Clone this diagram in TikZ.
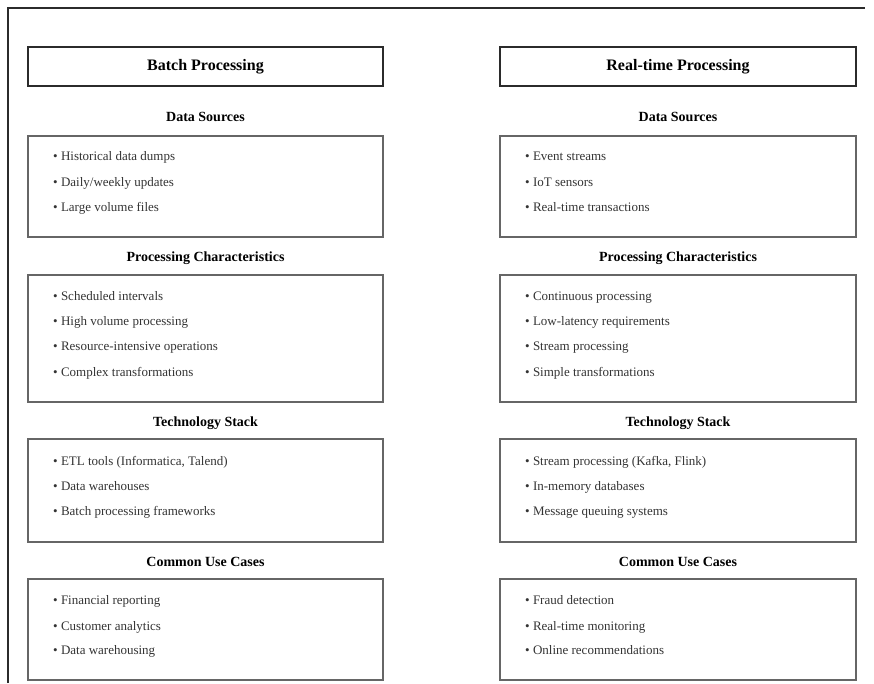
\documentclass[tikz,border=0pt]{standalone}
\usepackage{fontspec}
\setmainfont{Liberation Serif}
\definecolor{inkdark}{HTML}{2B2B2B}
\definecolor{boxgray}{HTML}{666666}
\definecolor{textgray}{HTML}{333333}
\begin{document}
\begin{tikzpicture}[x=1pt,y=-1pt,
  frameline/.style={draw=inkdark,line width=1.4pt},
  headbox/.style={draw=inkdark,line width=2.2pt,inner sep=0pt,minimum height=39pt,
    font=\fontsize{16}{19}\selectfont\bfseries,text=black},
  sectitle/.style={font=\fontsize{14}{17}\selectfont\bfseries,text=black,inner sep=0pt,
    text height=9.5pt,text depth=3.5pt},
  listbox/.style={draw=boxgray,line width=1.6pt,inner sep=0pt},
  item/.style={anchor=west,inner sep=0pt,font=\fontsize{13}{16}\selectfont,text=textgray,
    text height=9pt,text depth=3pt}
]
\useasboundingbox (0,0) rectangle (874,683);
% outer frame (left and top edges)
\draw[frameline] (8,683) -- (8,8) -- (865,8);

% ---------- Batch column ----------
\node[headbox,minimum width=355pt] (bhead) at (205.5,66.5) {Batch Processing};

\node[sectitle] (bds) at (205.5,118) {Data Sources};
\node[listbox,minimum width=355pt,minimum height=101pt] (bdsbox) at (205.5,186.5) {};
\node[item] (bds1) at (53,157) {• Historical data dumps};
\node[item] (bds2) at (53,183) {• Daily/weekly updates};
\node[item] (bds3) at (53,208) {• Large volume files};

\node[sectitle] (bpc) at (205.5,258) {Processing Characteristics};
\node[listbox,minimum width=355pt,minimum height=127pt] (bpcbox) at (205.5,338.5) {};
\node[item] (bpc1) at (53,297) {• Scheduled intervals};
\node[item] (bpc2) at (53,322) {• High volume processing};
\node[item] (bpc3) at (53,347) {• Resource-intensive operations};
\node[item] (bpc4) at (53,373) {• Complex transformations};

\node[sectitle] (bts) at (205.5,423) {Technology Stack};
\node[listbox,minimum width=355pt,minimum height=103pt] (btsbox) at (205.5,490.5) {};
\node[item] (bts1) at (53,462) {• ETL tools (Informatica, Talend)};
\node[item] (bts2) at (53,487) {• Data warehouses};
\node[item] (bts3) at (53,512) {• Batch processing frameworks};

\node[sectitle] (buc) at (205.5,563) {Common Use Cases};
\node[listbox,minimum width=355pt,minimum height=101pt] (bucbox) at (205.5,629.5) {};
\node[item] (buc1) at (53,601) {• Financial reporting};
\node[item] (buc2) at (53,627) {• Customer analytics};
\node[item] (buc3) at (53,651) {• Data warehousing};

% ---------- Real-time column ----------
\node[headbox,minimum width=356pt] (rhead) at (678,66.5) {Real-time Processing};

\node[sectitle] (rds) at (678,118) {Data Sources};
\node[listbox,minimum width=356pt,minimum height=101pt] (rdsbox) at (678,186.5) {};
\node[item] (rds1) at (525,157) {• Event streams};
\node[item] (rds2) at (525,183) {• IoT sensors};
\node[item] (rds3) at (525,208) {• Real-time transactions};

\node[sectitle] (rpc) at (678,258) {Processing Characteristics};
\node[listbox,minimum width=356pt,minimum height=127pt] (rpcbox) at (678,338.5) {};
\node[item] (rpc1) at (525,297) {• Continuous processing};
\node[item] (rpc2) at (525,322) {• Low-latency requirements};
\node[item] (rpc3) at (525,347) {• Stream processing};
\node[item] (rpc4) at (525,373) {• Simple transformations};

\node[sectitle] (rts) at (678,423) {Technology Stack};
\node[listbox,minimum width=356pt,minimum height=103pt] (rtsbox) at (678,490.5) {};
\node[item] (rts1) at (525,462) {• Stream processing (Kafka, Flink)};
\node[item] (rts2) at (525,487) {• In-memory databases};
\node[item] (rts3) at (525,512) {• Message queuing systems};

\node[sectitle] (ruc) at (678,563) {Common Use Cases};
\node[listbox,minimum width=356pt,minimum height=101pt] (rucbox) at (678,629.5) {};
\node[item] (ruc1) at (525,601) {• Fraud detection};
\node[item] (ruc2) at (525,627) {• Real-time monitoring};
\node[item] (ruc3) at (525,651) {• Online recommendations};
\end{tikzpicture}
\end{document}
